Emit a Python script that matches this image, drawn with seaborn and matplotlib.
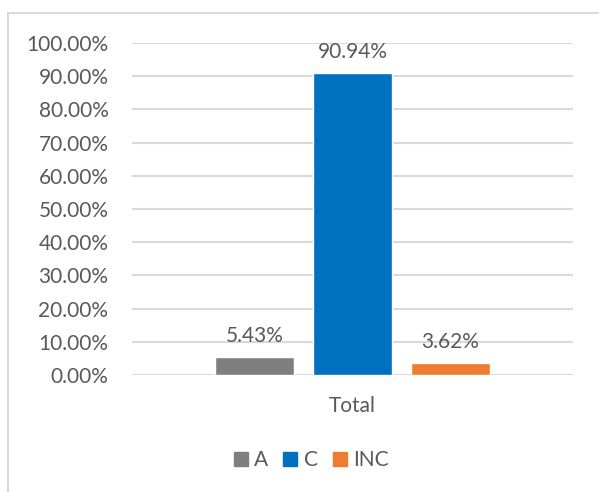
import matplotlib
matplotlib.use("Agg")
import matplotlib.pyplot as plt
import seaborn as sns
import pandas as pd
from matplotlib.patches import Rectangle
from matplotlib.lines import Line2D

categories = ["Total"]
series = ["A", "C", "INC"]
values = [0.0543, 0.9094, 0.0362]
colors = ["#7F7F7F", "#0070C0", "#ED7D31"]
yticks = [0.0, 0.1, 0.2, 0.3, 0.4, 0.5, 0.6, 0.7, 0.8, 0.9, 1.0]

df = pd.DataFrame({
    "category": categories * len(series),
    "series": series,
    "value": values,
})

sns.set_theme(style="white")
plt.rcParams["font.family"] = ["Lato", "DejaVu Sans"]
text_color = "#595959"
grid_color = "#D9D9D9"
fs = 15

fig = plt.figure(figsize=(5.99, 4.92), dpi=100)
W, H = 599, 492
ax = fig.add_axes([132 / W, 1 - 375 / H, (573 - 132) / W, (375 - 43) / H])

sns.barplot(data=df, x="category", y="value", hue="series", hue_order=series,
            palette=dict(zip(series, colors)), width=0.667, gap=0.2,
            legend=False, saturation=1, ax=ax)

ax.set_xlim(-0.5, 0.5)
ax.set_ylim(0, 1.0)
ax.set_yticks(yticks)
ax.set_yticklabels([f"{t:.2%}" for t in yticks])
for y in yticks:
    ax.axhline(y, color=grid_color, lw=1.5, zorder=0)
for s in ax.spines.values():
    s.set_visible(False)
ax.tick_params(axis="y", length=0, pad=17, labelsize=fs, labelcolor=text_color)
ax.tick_params(axis="x", length=0, pad=15, labelsize=fs, labelcolor=text_color)
ax.set_xlabel("")
ax.set_ylabel("")

for cont, v in zip(ax.containers, values):
    ax.bar_label(cont, labels=[f"{v:.2%}"], padding=8, fontsize=fs, color=text_color)

# chart frame
fig.patches.append(Rectangle((8 / W, -0.1), 1.2, 1 - 13 / H + 0.1,
                             transform=fig.transFigure, fill=False,
                             edgecolor=grid_color, lw=1.5))

handles = [Line2D([], [], marker="s", linestyle="none", markersize=10.5,
                  markerfacecolor=c, markeredgecolor=c) for c in colors]
fig.legend(handles, series, loc="center", bbox_to_anchor=(310 / W, 1 - 460 / H),
           ncol=3, frameon=False, fontsize=fs, labelcolor=text_color,
           handletextpad=0.2, columnspacing=0.6, handlelength=0.9)

fig.savefig("out.png", dpi=100, facecolor="white")
